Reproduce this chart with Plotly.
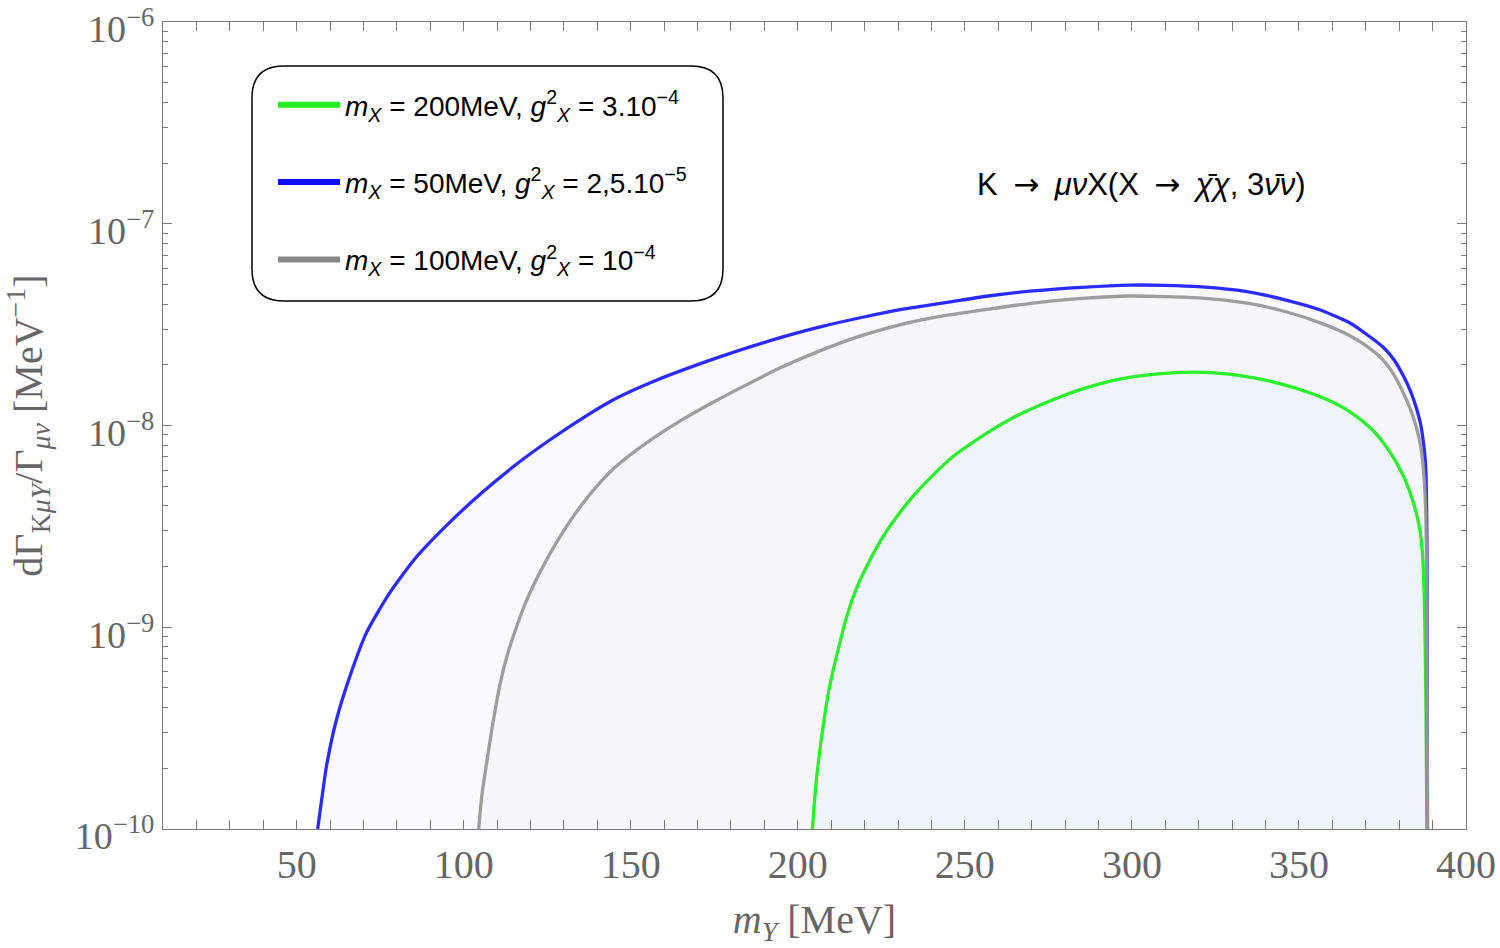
import plotly.graph_objects as go

# ---------------- data (m_Y in MeV, log10 of dGamma/Gamma in MeV^-1) ----------------
blue_x = [56.29, 57.49, 58.89, 61.89, 65.87, 70.87, 77.84, 85.84, 95.81, 105.69, 115.87,
          125.75, 135.63, 145.81, 155.69, 175.75, 195.51, 207.0, 219.76, 232.0, 245.21, 257.0,
          270.36, 285.0, 299.40, 310.0, 320.96, 334.0, 346.11, 356.0, 365.27, 370.0, 375.15,
          378.5, 381.44, 383.5, 385.33, 386.5, 387.28, 387.8, 388.02, 388.2, 388.32, 388.4, 388.47]
blue_log = [-10.0, -9.856, -9.693, -9.460, -9.247, -9.028, -8.830, -8.652, -8.480, -8.330, -8.191,
            -8.072, -7.963, -7.864, -7.789, -7.665, -7.561, -7.510, -7.462, -7.422, -7.388, -7.358,
            -7.333, -7.315, -7.304, -7.305, -7.313, -7.335, -7.378, -7.425, -7.492, -7.545, -7.611,
            -7.675, -7.760, -7.835, -7.923, -8.000, -8.087, -8.170, -8.240, -8.400, -8.617, -9.000, -10.0]

gray_x = [104.49, 105.39, 106.80, 108.5, 110.78, 113.0, 115.78, 119.0, 122.75, 126.0, 129.64,
          135.0, 140.72, 145.81, 155.69, 165.57, 175.75, 185.63, 194.61, 206.59, 219.76, 232.0,
          245.21, 270.36, 285.0, 299.40, 320.96, 335.0, 346.11, 357.0, 365.27, 371.0, 375.15,
          378.5, 381.44, 383.6, 385.33, 386.5, 387.28, 387.8, 388.02, 388.2, 388.32, 388.47]
gray_log = [-10.0, -9.84, -9.68, -9.50, -9.29, -9.14, -9.00, -8.86, -8.73, -8.63, -8.53,
            -8.40, -8.285, -8.20, -8.075, -7.97, -7.875, -7.79, -7.715, -7.63, -7.551, -7.495,
            -7.452, -7.393, -7.370, -7.358, -7.368, -7.395, -7.436, -7.495, -7.555, -7.615, -7.675,
            -7.750, -7.845, -7.930, -8.020, -8.110, -8.220, -8.360, -8.480, -8.700, -8.900, -10.0]

green_x = [204.40, 205.0, 205.8, 207.0, 208.3, 209.58, 211.5, 214.58, 217.5, 220.57, 225.0,
           229.55, 234.5, 239.52, 246.0, 254.49, 264.0, 274.55, 285.0, 295.51, 307.0, 318.26,
           329.0, 339.82, 349.0, 358.68, 365.5, 371.56, 375.5, 379.04, 381.8, 384.13, 385.5,
           386.23, 387.0, 387.5, 387.8, 388.02, 388.32]
green_log = [-10.0, -9.86, -9.72, -9.56, -9.41, -9.29, -9.15, -8.95, -8.81, -8.70, -8.565,
             -8.454, -8.35, -8.262, -8.16, -8.06, -7.965, -7.885, -7.82, -7.772, -7.745, -7.735,
             -7.745, -7.775, -7.815, -7.874, -7.935, -8.015, -8.09, -8.18, -8.27, -8.375, -8.46,
             -8.52, -8.64, -8.85, -9.10, -9.40, -10.0]

series_names = [
    "<i>m</i><sub><i>X</i></sub> = 200MeV, <i>g</i><sup>2</sup><sub><i>X</i></sub> = 3.10<sup>−4</sup>",
    "<i>m</i><sub><i>X</i></sub> = 50MeV, <i>g</i><sup>2</sup><sub><i>X</i></sub> = 2,5.10<sup>−5</sup>",
    "<i>m</i><sub><i>X</i></sub> = 100MeV, <i>g</i><sup>2</sup><sub><i>X</i></sub> = 10<sup>−4</sup>",
]

x_ticks = [50, 100, 150, 200, 250, 300, 350, 400]
y_tick_exps = [-10, -9, -8, -7, -6]

# ---------------- figure ----------------
def vals(logs):
    return [10 ** v for v in logs]

BLUE = "#2b2bff"
GREEN = "#2cf02c"
GRAY = "#9a9a9a"
SPL = dict(shape="spline", smoothing=0.6)

fig = go.Figure()

# fills
fig.add_trace(go.Scatter(x=blue_x, y=vals(blue_log), mode="lines", fill="toself",
                         fillcolor="rgba(40,40,230,0.025)", line=dict(width=0, **SPL),
                         showlegend=False, hoverinfo="skip"))
fig.add_trace(go.Scatter(x=gray_x, y=vals(gray_log), mode="lines", fill="toself",
                         fillcolor="rgba(100,100,140,0.025)", line=dict(width=0, **SPL),
                         showlegend=False, hoverinfo="skip"))
fig.add_trace(go.Scatter(x=green_x, y=vals(green_log), mode="lines", fill="toself",
                         fillcolor="rgba(0,200,120,0.03)", line=dict(width=0, **SPL),
                         showlegend=False, hoverinfo="skip"))

# curves
fig.add_trace(go.Scatter(x=green_x, y=vals(green_log), mode="lines",
                         line=dict(color=GREEN, width=3.3, **SPL), showlegend=False))
fig.add_trace(go.Scatter(x=blue_x, y=vals(blue_log), mode="lines",
                         line=dict(color=BLUE, width=3.3, **SPL), showlegend=False))
fig.add_trace(go.Scatter(x=gray_x, y=vals(gray_log), mode="lines",
                         line=dict(color=GRAY, width=3.3, **SPL),
                         opacity=0.95, showlegend=False))

# legend entries
for name, col, grp in zip(series_names, ["#22ee22", "#0c0cff", "#888888"], ["a", "b", "c"]):
    fig.add_trace(go.Scatter(x=[None], y=[None], mode="lines", name=name,
                             line=dict(color=col, width=6), legendgroup=grp))

# invisible helper traces so the minor-tick axes are drawn
minor_y = [k * 10 ** e for e in range(-10, -6) for k in range(2, 10)]
fig.add_trace(go.Scatter(x=[None], y=[None], yaxis="y2", showlegend=False, hoverinfo="skip"))
fig.add_trace(go.Scatter(x=[None], y=[None], yaxis="y3", showlegend=False, hoverinfo="skip"))

# plot area geometry (px)
W, H = 1500, 948
L, R, T, B = 163, 34, 22, 119
pw, ph = W - L - R, H - T - B

def px2paper_x(px):
    return (px - L) / pw

def px2paper_y(py):
    return 1 - (py - T) / ph

# rounded legend box
bx0, bx1 = px2paper_x(252), px2paper_x(723)
by1, by0 = px2paper_y(66), px2paper_y(301)
rx, ry = 32 / pw, 32 / ph
path = (f"M {bx0+rx},{by1} L {bx1-rx},{by1} Q {bx1},{by1} {bx1},{by1-ry} "
        f"L {bx1},{by0+ry} Q {bx1},{by0} {bx1-rx},{by0} L {bx0+rx},{by0} "
        f"Q {bx0},{by0} {bx0},{by0+ry} L {bx0},{by1-ry} Q {bx0},{by1} {bx0+rx},{by1} Z")
fig.add_shape(type="path", path=path, xref="paper", yref="paper",
              line=dict(color="black", width=1.5), fillcolor="white", layer="below")

SP = "\u2002"
ARR = f"{SP}<span style=\"font-family:DejaVu Sans\">→</span>{SP}"
fig.add_annotation(x=px2paper_x(1141), y=px2paper_y(184), xref="paper", yref="paper",
                   text=f"K{ARR}<i>μν</i>X(X{ARR}<i>χ\u0304χ</i>, 3<i>ν\u0304ν</i>)",
                   showarrow=False, font=dict(family="Liberation Sans", size=31, color="black"),
                   xanchor="center", yanchor="middle")

tick_font = dict(family="Liberation Serif", size=40, color="#666666")
ytick_font = dict(family="Liberation Serif", size=38, color="#666666")
title_font = dict(family="Liberation Serif", size=40, color="#666666")
axis_col = "#7a7a7a"

fig.update_xaxes(range=[10, 400], tickvals=x_ticks, ticktext=[str(v) for v in x_ticks],
                 ticks="inside", ticklen=9, tickwidth=1.2, tickcolor=axis_col,
                 minor=dict(ticks="inside", ticklen=5, tickwidth=1, tickcolor=axis_col,
                            tick0=0, dtick=10, showgrid=False),
                 showline=True, linecolor=axis_col, linewidth=1.3, mirror="allticks",
                 showgrid=False, zeroline=False, tickfont=tick_font, ticklabeloverflow="allow",
                 title=dict(text="<i>m</i><sub><i>Y</i></sub> [MeV]", font=title_font, standoff=18))

yrange = [-10.0005, -5.9995]
fig.update_yaxes(type="log", range=yrange,
                 tickvals=[10 ** e for e in y_tick_exps],
                 ticktext=[f"10<sup>−{abs(e)}</sup>" for e in y_tick_exps],
                 ticks="inside", ticklen=9, tickwidth=1.2, tickcolor=axis_col,
                 showline=True, linecolor=axis_col, linewidth=1.3, mirror="allticks",
                 showgrid=False, zeroline=False, tickfont=ytick_font, ticklabeloverflow="allow",
                 ticklabelshift=7,
                 title=dict(text="dΓ<sub>K<i>μY</i></sub>/Γ<sub><i>μν</i></sub> [MeV<sup>−1</sup>]",
                            font=title_font, standoff=24))

fig.update_layout(
    width=W, height=H,
    margin=dict(l=L, r=R, t=T, b=B, autoexpand=False),
    paper_bgcolor="white", plot_bgcolor="white",
    yaxis2=dict(type="log", range=yrange, overlaying="y", side="left", tickmode="array",
                tickvals=minor_y, ticks="inside", ticklen=5, tickwidth=1, tickcolor=axis_col,
                showticklabels=False, showgrid=False, zeroline=False, showline=False),
    yaxis3=dict(type="log", range=yrange, overlaying="y", side="right", tickmode="array",
                tickvals=minor_y, ticks="inside", ticklen=5, tickwidth=1, tickcolor=axis_col,
                showticklabels=False, showgrid=False, zeroline=False, showline=False),
    legend=dict(x=px2paper_x(273), y=px2paper_y(80), xanchor="left", yanchor="top",
                bgcolor="rgba(0,0,0,0)", borderwidth=0, tracegroupgap=38,
                traceorder="grouped", itemwidth=62,
                font=dict(family="Liberation Sans", size=28, color="black")),
)

fig.write_html("out.html")
